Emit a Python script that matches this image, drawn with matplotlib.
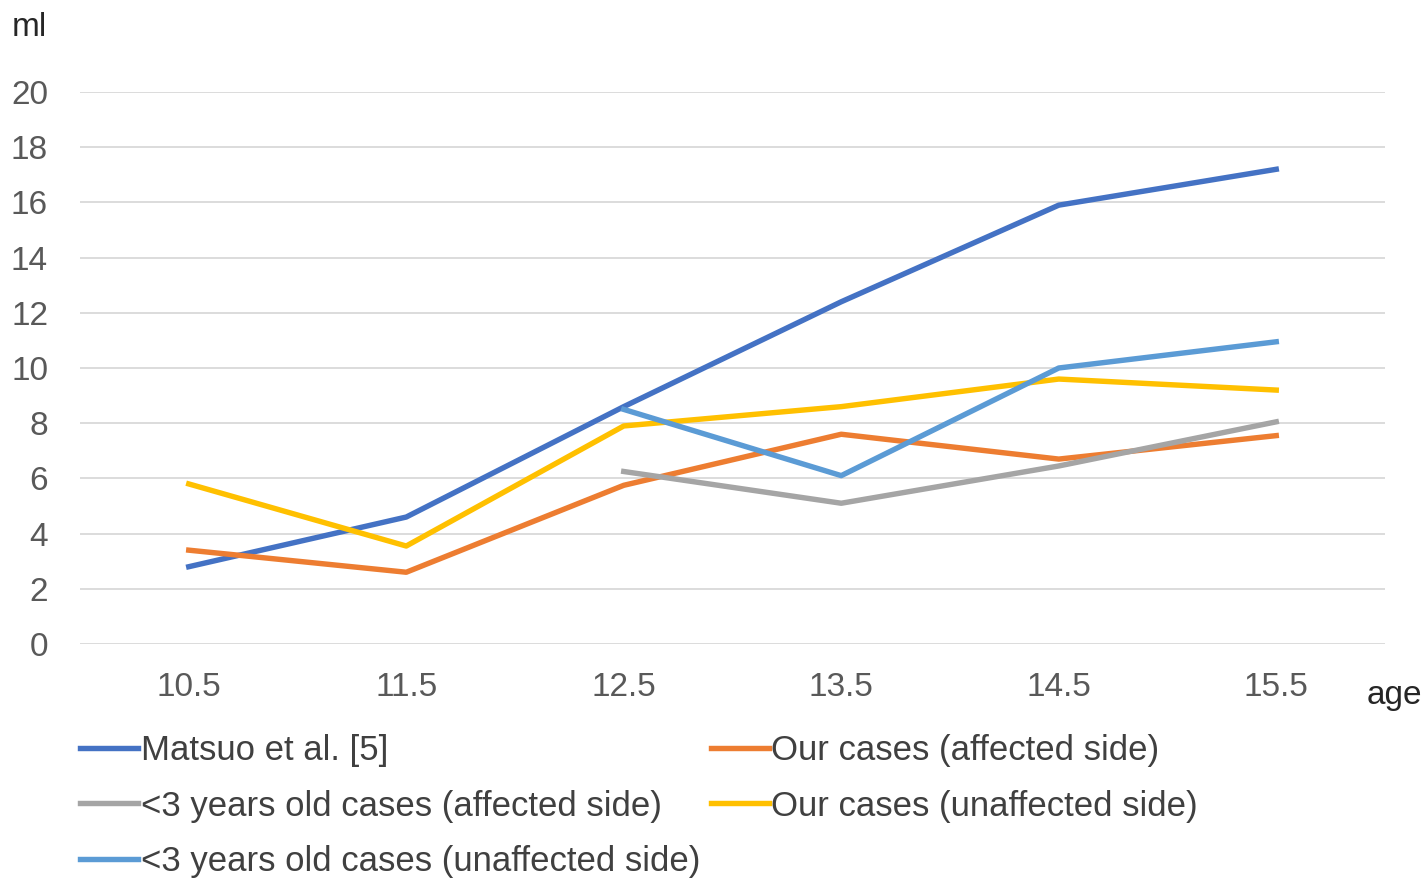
import matplotlib.pyplot as plt
import numpy as np

plt.rcParams['font.family'] = ['Liberation Sans', 'DejaVu Sans']

ages = ["10.5", "11.5", "12.5", "13.5", "14.5", "15.5"]
matsuo = [2.8, 4.6, 8.6, 12.4, 15.9, 17.2]
ours_affected = [3.4, 2.6, 5.75, 7.6, 6.7, 7.55]
young_affected = [np.nan, np.nan, 6.25, 5.1, 6.45, 8.05]
ours_unaffected = [5.8, 3.55, 7.9, 8.6, 9.6, 9.2]
young_unaffected = [np.nan, np.nan, 8.5, 6.1, 10.0, 10.95]

fig = plt.figure(figsize=(14.28, 8.8), dpi=100)
ax = fig.add_axes([80 / 1428, 1 - 644 / 880, 1305 / 1428, 552 / 880])

x = np.arange(len(ages))
lw = 3.9
l1, = ax.plot(x, matsuo, color="#4472C4", lw=lw, label="Matsuo et al. [5]")
l2, = ax.plot(x, ours_affected, color="#ED7D31", lw=lw, label="Our cases (affected side)")
l3, = ax.plot(x, young_affected, color="#A5A5A5", lw=lw, label="<3 years old cases (affected side)")
l4, = ax.plot(x, ours_unaffected, color="#FFC000", lw=lw, label="Our cases (unaffected side)")
l5, = ax.plot(x, young_unaffected, color="#5B9BD5", lw=lw, label="<3 years old cases (unaffected side)")

ax.set_xlim(-0.5, len(ages) - 0.5)
ax.set_ylim(0, 20)
ax.set_yticks(range(0, 21, 2))
ax.set_xticks(x)
ax.set_xticklabels(ages)
ax.grid(axis="y", color="#D9D9D9", lw=1.3)
ax.set_axisbelow(True)
for s in ax.spines.values():
    s.set_visible(False)
ax.tick_params(length=0, labelsize=24, colors="#595959")
ax.tick_params(axis="x", pad=20)
ax.tick_params(axis="y", pad=23)

fig.text(12 / 1428, 1 - 28 / 880, "ml", fontsize=24, color="#262626", va="center")
fig.text(1367 / 1428, 1 - 695 / 880, "age", fontsize=24, color="#262626", va="center")

fig.legend(handles=[l1, l3, l5, l2, l4], ncol=2, loc="upper left",
           bbox_to_anchor=(80 / 1428, 1 - 734 / 880), frameon=False,
           fontsize=25, handlelength=1.67, handletextpad=0.08,
           columnspacing=0.3, labelspacing=0.65, borderaxespad=0,
           borderpad=0, labelcolor="#404040")

fig.savefig("out.png", dpi=100)
